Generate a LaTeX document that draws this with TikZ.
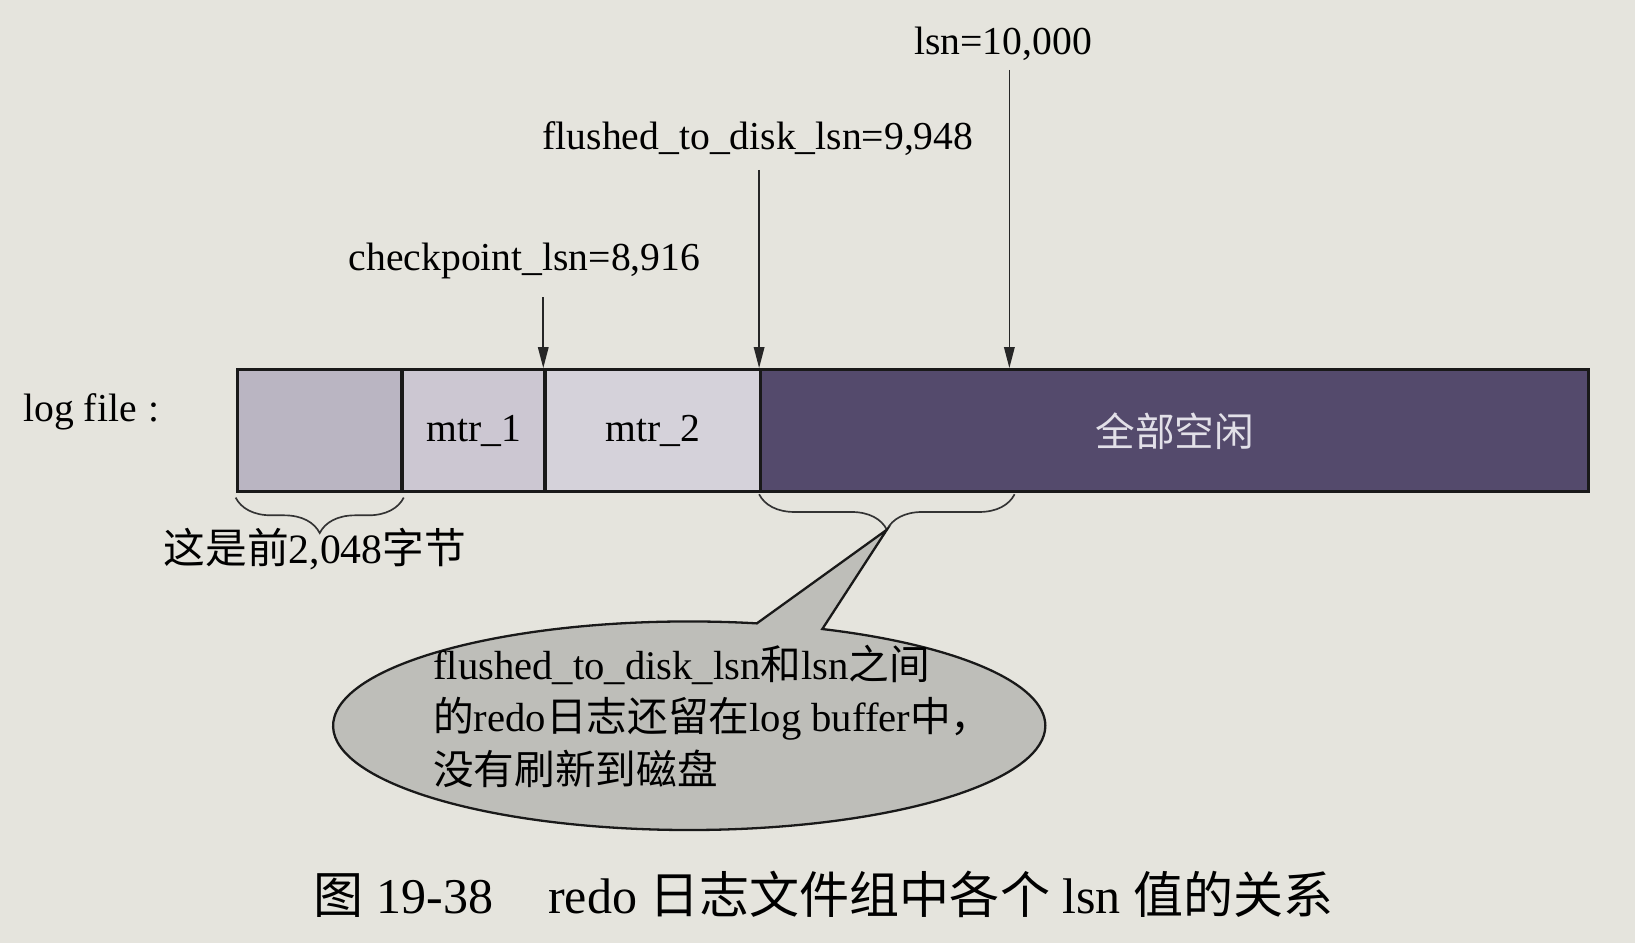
\documentclass[tikz,border=0pt]{standalone}
\usepackage{fontspec}
\setmainfont{Liberation Serif}
\newfontfamily\zh{Noto Sans CJK SC}
\usetikzlibrary{arrows.meta,shapes.callouts,decorations.pathreplacing}
\definecolor{paper}{RGB}{229,228,221}
\definecolor{cellA}{RGB}{186,181,194}
\definecolor{cellB}{RGB}{204,199,210}
\definecolor{cellC}{RGB}{213,210,218}
\definecolor{freecol}{RGB}{84,74,108}
\definecolor{freetext}{RGB}{226,224,232}
\definecolor{bubble}{RGB}{190,190,185}
\begin{document}
\begin{tikzpicture}[x=0.5pt,y=-0.5pt,
  cell/.style={draw=black!90,line width=1.6pt,minimum height=58.5pt,inner sep=0pt,anchor=north west,
               font=\fontsize{19}{23}\selectfont},
  ptr/.style={draw=black!85,line width=0.8pt,-{Triangle[length=10pt,width=5pt]}},
  lbl/.style={font=\fontsize{19}{23}\selectfont,inner sep=0pt},
  brc/.style={draw=black!80,line width=0.8pt,decorate,decoration={brace,mirror,amplitude=17pt}},
]
\fill[paper] (0,0) rectangle (1568,904);
\useasboundingbox (0,0) rectangle (1568,904);

% log file segments
\node[cell,fill=cellA,minimum width=79pt]   (c0)   at (226,353) {};
\node[cell,fill=cellB,minimum width=68.5pt] (c1)   at (384,353) {mtr\_1};
\node[cell,fill=cellC,minimum width=103.5pt](c2)   at (521,353) {mtr\_2};
\node[cell,fill=freecol,minimum width=397pt,text=freetext] (free) at (728,353) {\raisebox{-3pt}{\zh 全部空闲}};

\node[lbl,anchor=west] (logfile) at (22,395) {log file\kern0.3em:};

% lsn pointers
\node[lbl] (cpl)  at (503,250) {checkpoint\_lsn=8,916};
\node[lbl] (fdl)  at (727,133) {flushed\_to\_disk\_lsn=9,948};
\node[lbl] (lsnl) at (962,42)  {lsn=10,000};

\coordinate (cpTop)  at (521,285);
\coordinate (fdTop)  at (728,163);
\coordinate (lsnTop) at (968,67);
\draw[ptr] (cpTop) -- (c2.north west);
\draw[ptr] (fdTop) -- (free.north west);
\draw[ptr] (lsnTop) -- (lsnTop |- free.north);

% braces under the bar
\draw[brc] ([yshift=-2pt]c0.south west) -- ([yshift=-2pt]c0.south east);
\node[font=\fontsize{20}{24}\selectfont,inner sep=0pt] (first) at (302,527) {{\zh 这是前}2,048{\zh 字节}};

\coordinate (b2l) at (728,474);
\coordinate (b2r) at (973,474);
\draw[brc] (b2l) -- (b2r);
\coordinate (tip) at (850.5,508);

% callout
\node[ellipse callout,draw=black!90,line width=1.1pt,fill=bubble,
      minimum width=341.5pt,minimum height=100pt,callout pointer arc=11,
      callout absolute pointer={(tip)}] (note) at (661,696) {};
\node[anchor=west,align=left,inner sep=0pt,font=\fontsize{19.5}{25}\selectfont] (notetext) at (415,687)
  {flushed\_to\_disk\_lsn{\zh 和}lsn{\zh 之间}\\
   {\zh 的}redo{\zh 日志还留在}log buffer{\zh 中，}\\
   {\zh 没有刷新到磁盘}};

% caption
\node[font=\fontsize{24}{28}\selectfont,inner sep=0pt] (cap) at (790,858)
  {{\zh 图} 19-38\hspace{1.1em}redo {\zh 日志文件组中各个} lsn {\zh 值的关系}};
\end{tikzpicture}
\end{document}
